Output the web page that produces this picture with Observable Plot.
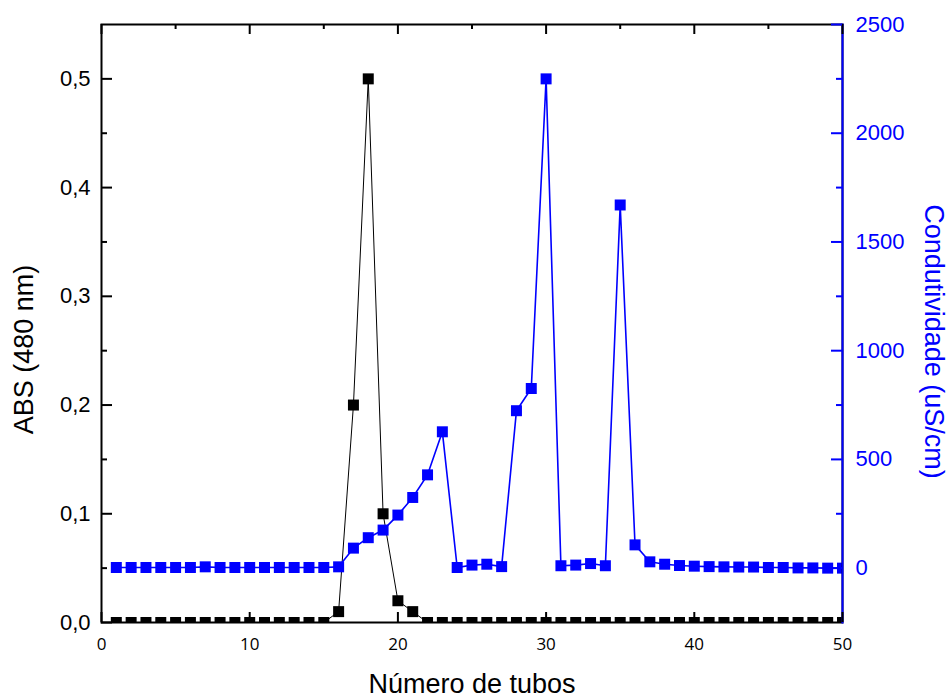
<!DOCTYPE html>
<html>
<head>
<meta charset="utf-8">
<script src="https://cdn.jsdelivr.net/npm/d3@7"></script>
<script src="https://cdn.jsdelivr.net/npm/@observablehq/plot@0.6"></script>
<style>
  html, body { margin: 0; padding: 0; background: #ffffff; }
</style>
</head>
<body>
<div id="chart"></div>
<script>
// ---- data ----
const tubes = [1,2,3,4,5,6,7,8,9,10,11,12,13,14,15,16,17,18,19,20,21,22,23,24,25,
               26,27,28,29,30,31,32,33,34,35,36,37,38,39,40,41,42,43,44,45,46,47,48,49,50];
const absValues = [0,0,0,0,0,0,0,0,0,0,0,0,0,0,0,
                   0.01,0.2,0.5,0.1,0.02,0.01,
                   0,0,0,0,0,0,0,0,0,0,0,0,0,0,0,0,0,0,0,0,0,0,0,0,0,0,0,0,0];
const condValues = [3,3,3,3,3,3,6,3,3,3,3,3,3,3,3,
                    6,92,140,175,244,325,429,627,
                    3,14,18,7,724,826,2250,11,14,21,11,1670,107,
                    29,18,12,9,7,6,5,5,3,3,1,1,0,0];

const xMajorTicks = [0,10,20,30,40,50];
const xMinorTicks = [5,15,25,35,45];
const absTicks = [0,0.1,0.2,0.3,0.4,0.5];
const absMinorTicks = [0.05,0.15,0.25,0.35,0.45];
const condTicks = [0,500,1000,1500,2000,2500];
const condMinorTicks = [250,750,1250,1750,2250];

const xTitle = "Número de tubos";
const absTitle = "ABS (480 nm)";
const condTitle = "Condutividade (uS/cm)";

// ---- setup ----
const blue = "#0000ff";
const sans = "'Liberation Sans', Arial, sans-serif";
const W = 949, H = 697, ML = 101, MR = 107, MT = 24, MB = 75;
const frameW = W - ML - MR;   // 741
const frameH = H - MT - MB;   // 598
const condToAbs = d3.scaleLinear([-250, 2500], [0, 0.55]);

const absData = tubes.map((t, i) => ({t, v: absValues[i]}));
const condData = tubes.map((t, i) => ({t, v: condValues[i]}));

// inward tick helpers (length in px)
const xTicksBottom = (ticks, len) => Plot.tickX(ticks, {x: d => d, insetTop: frameH - len, stroke: "#000", strokeWidth: 2});
const xTicksTop = (ticks, len) => Plot.tickX(ticks, {x: d => d, insetBottom: frameH - len, stroke: "#000", strokeWidth: 2});
const yTicksLeft = (ticks, len) => Plot.tickY(ticks, {y: d => d, insetRight: frameW - len, stroke: "#000", strokeWidth: 2});
const yTicksRight = (ticks, len) => Plot.tickY(ticks, {y: d => condToAbs(d), insetLeft: frameW - len, stroke: blue, strokeWidth: 2});

const chart = Plot.plot({
  width: W,
  height: H,
  marginLeft: ML,
  marginRight: MR,
  marginTop: MT,
  marginBottom: MB,
  x: {domain: [0, 50]},
  y: {domain: [0, 0.55]},
  style: {fontFamily: sans, background: "#ffffff", color: "#000"},
  marks: [
    // series
    Plot.line(absData, {x: "t", y: "v", stroke: "#000", strokeWidth: 1, clip: "frame"}),
    Plot.line(condData, {x: "t", y: d => condToAbs(d.v), stroke: blue, strokeWidth: 1.6, clip: "frame"}),
    Plot.dot(absData, {x: "t", y: "v", symbol: "square", r: 6.2, fill: "#000", stroke: null, clip: "frame"}),
    Plot.dot(condData, {x: "t", y: d => condToAbs(d.v), symbol: "square", r: 6.2, fill: blue, stroke: null, clip: "frame"}),

    // frame
    Plot.frame({stroke: "#000", strokeWidth: 2}),
    Plot.frame({anchor: "right", stroke: blue, strokeWidth: 2}),

    // inward ticks
    xTicksBottom(xMajorTicks, 10),
    xTicksBottom(xMinorTicks, 5),
    xTicksTop(xMajorTicks, 10),
    xTicksTop(xMinorTicks, 5),
    yTicksLeft(absTicks, 11),
    yTicksLeft(absMinorTicks, 6),
    yTicksRight(condTicks, 11),
    yTicksRight(condMinorTicks, 6),

    // tick labels
    Plot.axisX(xMajorTicks, {anchor: "bottom", tickSize: 0, tickPadding: 15, label: null,
      fontFamily: "'Open Sans', sans-serif", fontSize: 17, tickFormat: d => String(d)}),
    Plot.axisY(absTicks, {anchor: "left", tickSize: 0, tickPadding: 11, label: null,
      fontSize: 22, fontFamily: sans, tickFormat: d => d.toFixed(1).replace(".", ",")}),
    Plot.axisY(condTicks, {anchor: "right", y: d => condToAbs(d), tickSize: 0, tickPadding: 13, label: null,
      fill: blue, stroke: "none", fontSize: 22, fontFamily: sans, tickFormat: d => String(d)}),

    // titles
    Plot.text([xTitle], {text: d => d, frameAnchor: "bottom", dy: 70, lineAnchor: "bottom",
      textAnchor: "middle", fontSize: 27, fontFamily: sans, fill: "#000"}),
    Plot.text([absTitle], {text: d => d, frameAnchor: "left", dx: -77, dy: 26, rotate: -90,
      textAnchor: "middle", lineAnchor: "middle", fontSize: 27, fontFamily: sans, fill: "#000"}),
    Plot.text([condTitle], {text: d => d, frameAnchor: "right", dx: 91, dy: 18, rotate: 90,
      textAnchor: "middle", lineAnchor: "middle", fontSize: 27, fontFamily: sans, fill: blue})
  ]
});

document.getElementById("chart").appendChild(chart);
</script>
</body>
</html>
